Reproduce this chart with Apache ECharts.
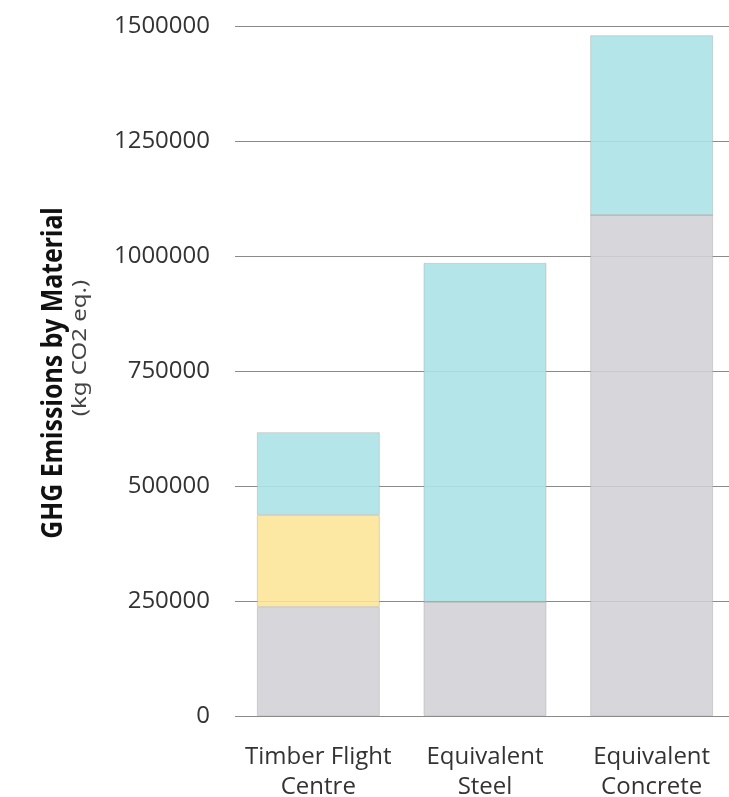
<!DOCTYPE html>
<html>
<head>
<meta charset="utf-8">
<script src="https://cdn.jsdelivr.net/npm/echarts@6/dist/echarts.min.js"></script>
<style>
  html, body { margin: 0; padding: 0; background: #fff; }
  #chart { width: 729px; height: 797px; }
</style>
</head>
<body>
<div id="chart"></div>
<script>
// data
var categories = ['Timber Flight\nCentre', 'Equivalent\nSteel', 'Equivalent\nConcrete'];
var baseValues = [237000, 248000, 1089000];
var timberValues = [200000, 0, 0];
var topValues = [180000, 737000, 391000];
var yTicks = [0, 250000, 500000, 750000, 1000000, 1250000, 1500000];

var chart = echarts.init(document.getElementById('chart'));

var barBorder = {
  borderColor: 'rgba(160,160,160,0.4)',
  borderWidth: 1
};

var option = {
  animation: false,
  grid: {
    left: 235,
    right: -6,
    top: 26,
    bottom: 81,
    outerBoundsMode: 'none'
  },
  xAxis: {
    type: 'category',
    data: categories,
    axisLine: { show: false },
    axisTick: { show: false },
    axisLabel: {
      interval: 0,
      color: '#333',
      fontFamily: 'Open Sans',
      fontSize: 24,
      lineHeight: 30,
      margin: 26
    }
  },
  yAxis: {
    type: 'value',
    min: yTicks[0],
    max: yTicks[yTicks.length - 1],
    interval: 250000,
    axisLine: { show: false },
    axisTick: { show: false },
    axisLabel: {
      color: '#333',
      fontFamily: 'Open Sans',
      fontSize: 24,
      margin: 25,
      formatter: function (v) { return String(v); }
    },
    splitLine: {
      lineStyle: { color: '#8a8a8a', width: 1 }
    }
  },
  graphic: [{
    type: 'text',
    x: 54,
    y: 373,
    rotation: Math.PI / 2,
    scaleX: 0.89,
    style: {
      text: 'GHG Emissions by Material',
      fontFamily: 'Noto Sans',
      fontWeight: 'bold',
      fontSize: 28,
      fill: '#111',
      align: 'center',
      verticalAlign: 'middle'
    }
  }, {
    type: 'text',
    x: 80,
    y: 348,
    rotation: Math.PI / 2,
    scaleX: 1.2,
    style: {
      text: '(kg CO2 eq.)',
      fontFamily: 'Noto Sans',
      fontSize: 20,
      fill: '#444',
      align: 'center',
      verticalAlign: 'middle'
    }
  }],
  series: [{
    name: 'Base',
    type: 'bar',
    stack: 'total',
    barWidth: 123,
    data: baseValues,
    itemStyle: Object.assign({ color: 'rgba(210,210,214,0.88)' }, barBorder)
  }, {
    name: 'Timber',
    type: 'bar',
    stack: 'total',
    data: timberValues,
    itemStyle: Object.assign({ color: 'rgba(252,228,150,0.88)' }, barBorder)
  }, {
    name: 'Top',
    type: 'bar',
    stack: 'total',
    data: topValues,
    itemStyle: Object.assign({ color: 'rgba(172,226,230,0.9)' }, barBorder)
  }]
};

chart.setOption(option);
</script>
</body>
</html>
